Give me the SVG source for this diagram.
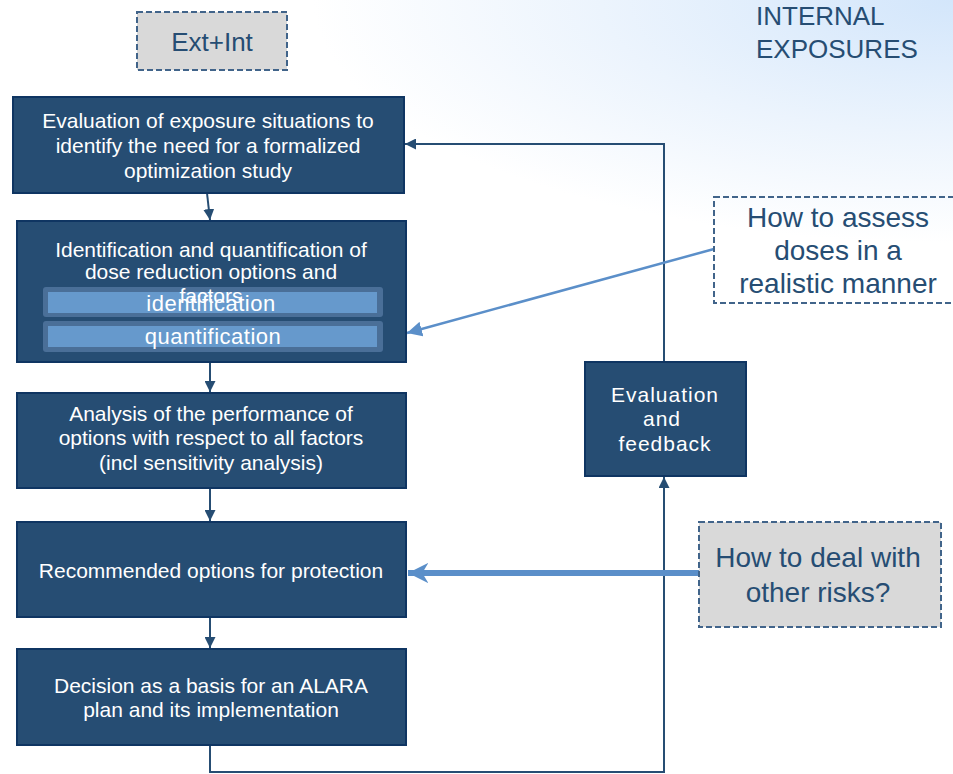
<svg xmlns="http://www.w3.org/2000/svg" width="953" height="774" viewBox="0 0 953 774">
<defs>
<radialGradient id="bg" cx="953" cy="0" r="640" gradientUnits="userSpaceOnUse" gradientTransform="translate(953 0) scale(1 0.38) translate(-953 0)">
<stop offset="0" stop-color="#d3e6fb"/>
<stop offset="0.55" stop-color="#ecf4fd"/>
<stop offset="1" stop-color="#ffffff"/>
</radialGradient>
<marker id="ad" viewBox="0 0 10 10" refX="10" refY="5" markerWidth="5.5" markerHeight="5.5" markerUnits="strokeWidth" orient="auto">
<path d="M0,0 L10,5 L0,10 z" fill="#264d73"/>
</marker>
<marker id="al" viewBox="0 0 10 10" refX="10" refY="5" markerWidth="6" markerHeight="6" markerUnits="strokeWidth" orient="auto">
<path d="M0,0 L10,5 L0,10 z" fill="#5b8fc9"/>
</marker>
<marker id="at" viewBox="0 0 10 10" refX="10" refY="5" markerWidth="3.4" markerHeight="3.4" markerUnits="strokeWidth" orient="auto">
<path d="M0,0 L10,5 L0,10 L3,5 z" fill="#5b8fc9"/>
</marker>
</defs>
<style>
.box{fill:#264d73;stroke:#0f3562;stroke-width:2}
.wt{fill:#ffffff;font-family:"Liberation Sans",Arial,sans-serif;font-size:21px;text-anchor:middle}
.dt{fill:#264d73;font-family:"Liberation Sans",Arial,sans-serif;text-anchor:middle;font-size:28px}
.dash{stroke:#41648a;stroke-width:2;stroke-dasharray:6 3}
.c{fill:none;stroke:#264d73;stroke-width:2}
.cl{fill:none;stroke:#5b8fc9;stroke-width:2.5}
.barO{fill:#4a6f98}
.barI{fill:#6699cc}
</style>
<rect x="0" y="0" width="953" height="774" fill="#ffffff"/>
<rect x="0" y="0" width="953" height="774" fill="url(#bg)"/>
<text class="dt" x="756" y="25" style="text-anchor:start;font-size:26px">INTERNAL</text>
<text class="dt" x="756" y="58" style="text-anchor:start;font-size:26px">EXPOSURES</text>
<g id="extint">
<rect x="137" y="12" width="150" height="58" fill="#d9d9d9" class="dash"/>
<text class="dt" x="212" y="51" style="font-size:26px">Ext+Int</text>
</g>
<g id="connectors">
<line class="c" x1="207" y1="193" x2="210" y2="220" marker-end="url(#ad)"/>
<line class="c" x1="210" y1="362" x2="210" y2="392" marker-end="url(#ad)"/>
<line class="c" x1="210" y1="488" x2="210" y2="521" marker-end="url(#ad)"/>
<line class="c" x1="210" y1="617" x2="210" y2="648" marker-end="url(#ad)"/>
<polyline class="c" points="210,745 210,772 664,772 664,477" marker-end="url(#ad)"/>
<polyline class="c" points="664,362 664,144 405,144" marker-end="url(#ad)"/>
<line class="cl" x1="714" y1="249" x2="407" y2="333" marker-end="url(#al)"/>
<line x1="699" y1="573" x2="408" y2="573" stroke="#5b8fc9" stroke-width="6" marker-end="url(#at)"/>
</g>
<g id="box1">
<rect class="box" x="13" y="97" width="391" height="96"/>
<text class="wt" x="208" y="128">Evaluation of exposure situations to</text>
<text class="wt" x="208" y="153">identify the need for a formalized</text>
<text class="wt" x="208" y="178">optimization study</text>
</g>
<g id="box2">
<rect class="box" x="17" y="221" width="389" height="141"/>
<text class="wt" x="211" y="257">Identification and quantification of</text>
<text class="wt" x="211" y="279">dose reduction options and</text>
<rect class="barO" x="43" y="287" width="340" height="30" rx="3"/>
<rect class="barI" x="48" y="292" width="329" height="21"/>
<text class="wt" x="211" y="303">factors</text>
<text class="wt" x="211" y="311" style="font-size:22px;letter-spacing:0.5px">identification</text>
<rect class="barO" x="43" y="321" width="340" height="31" rx="3"/>
<rect class="barI" x="48" y="326" width="329" height="21"/>
<text class="wt" x="213" y="344" style="font-size:22px;letter-spacing:0.5px">quantification</text>
</g>
<g id="box3">
<rect class="box" x="17" y="393" width="389" height="95"/>
<text class="wt" x="211" y="421">Analysis of the performance of</text>
<text class="wt" x="211" y="445">options with respect to all factors</text>
<text class="wt" x="211" y="470">(incl sensitivity analysis)</text>
</g>
<g id="box4">
<rect class="box" x="17" y="522" width="389" height="95"/>
<text class="wt" x="211" y="578">Recommended options for protection</text>
</g>
<g id="box5">
<rect class="box" x="17" y="649" width="389" height="96"/>
<text class="wt" x="211" y="693">Decision as a basis for an ALARA</text>
<text class="wt" x="211" y="717">plan and its implementation</text>
</g>
<g id="evalbox">
<rect class="box" x="585" y="362" width="161" height="114"/>
<text class="wt" x="665" y="402" style="letter-spacing:1px">Evaluation</text>
<text class="wt" x="662" y="426" style="letter-spacing:1px">and</text>
<text class="wt" x="665" y="451" style="letter-spacing:1px">feedback</text>
</g>
<g id="assess">
<rect x="714" y="197" width="250" height="106" fill="none" class="dash"/>
<text class="dt" x="838" y="227">How to assess</text>
<text class="dt" x="838" y="260">doses in a</text>
<text class="dt" x="838" y="293">realistic manner</text>
</g>
<g id="otherrisks">
<rect x="699" y="522" width="242" height="105" fill="#d9d9d9" class="dash"/>
<text class="dt" x="818" y="567">How to deal with</text>
<text class="dt" x="818" y="602">other risks?</text>
</g>
</svg>
